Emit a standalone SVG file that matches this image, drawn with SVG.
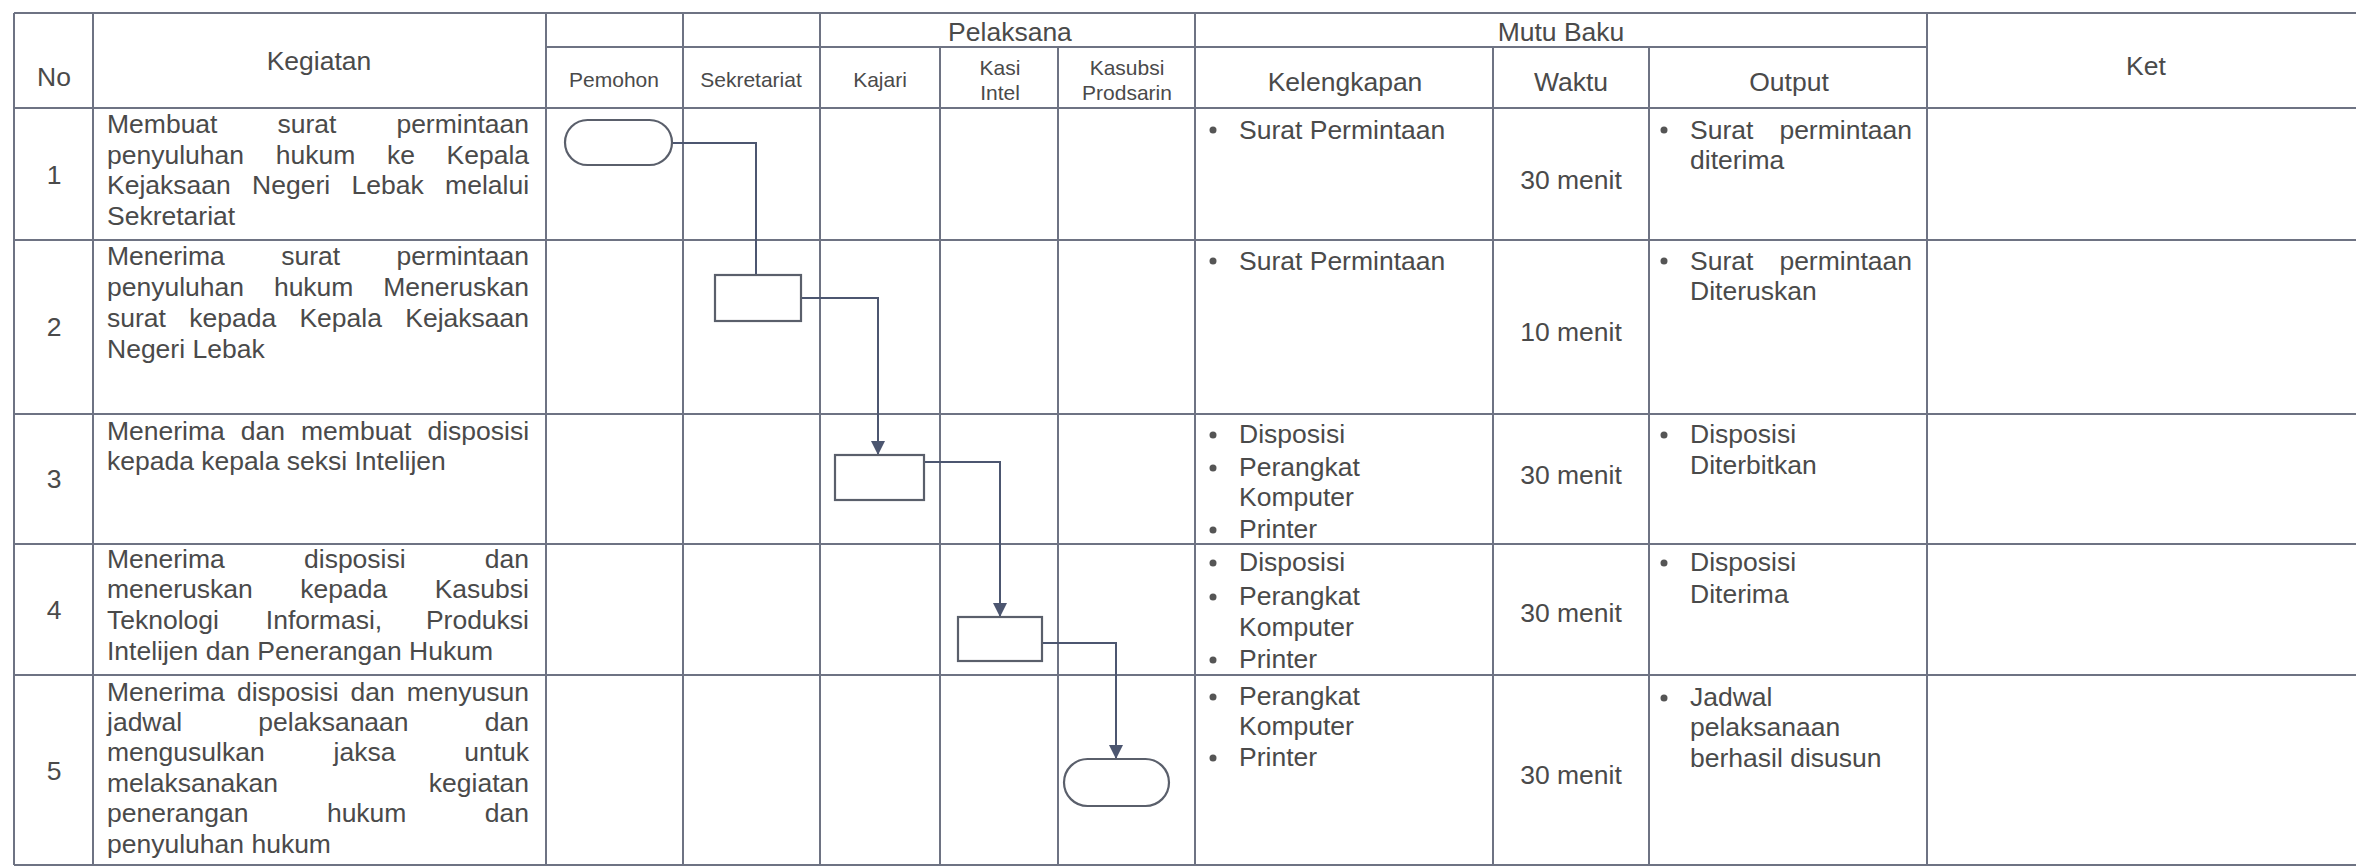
<svg xmlns="http://www.w3.org/2000/svg" width="2356" height="868" viewBox="0 0 2356 868">
<style>
.t{font-family:"Liberation Sans",Arial,sans-serif;font-size:26.5px;fill:#4a4a4a}
.s{font-family:"Liberation Sans",Arial,sans-serif;font-size:21px;fill:#4a4a4a}
.c{text-anchor:middle}
.g{stroke:#6e7383;stroke-width:2;fill:none}
.shape{stroke:#5a5f6b;stroke-width:2.2;fill:#ffffff}
.conn{stroke:#4c5670;stroke-width:2;fill:none}
.b{fill:#555}
</style>
<defs>
<marker id="arr" viewBox="0 0 10 10" refX="10" refY="5" markerWidth="14" markerHeight="14" markerUnits="userSpaceOnUse" orient="auto">
<path d="M0,0 L10,5 L0,10 z" fill="#4c5670"/>
</marker>
</defs>
<rect width="2356" height="868" fill="#ffffff"/>
<g id="grid" class="g">
<path d="M14,13 H2356 M546,47 H1927 M14,108 H2356 M14,240 H2356 M14,414 H2356 M14,544 H2356 M14,675 H2356 M14,865 H2356"/>
<path d="M14,13 V865 M93,13 V865 M546,13 V865 M683,13 V865 M820,13 V865 M940,47 V865 M1058,47 V865 M1195,13 V865 M1493,47 V865 M1649,47 V865 M1927,13 V865"/>
</g>
<g id="header">
<text class="t c" x="54" y="86">No</text>
<text class="t c" x="319" y="70">Kegiatan</text>
<text class="s c" x="614" y="87">Pemohon</text>
<text class="s c" x="751" y="87">Sekretariat</text>
<text class="s c" x="880" y="87">Kajari</text>
<text class="s c" x="1000" y="75">Kasi</text>
<text class="s c" x="1000" y="100">Intel</text>
<text class="s c" x="1127" y="75">Kasubsi</text>
<text class="s c" x="1127" y="100">Prodsarin</text>
<text class="t c" x="1010" y="41">Pelaksana</text>
<text class="t c" x="1561" y="41">Mutu Baku</text>
<text class="t c" x="1345" y="91">Kelengkapan</text>
<text class="t c" x="1571" y="91">Waktu</text>
<text class="t c" x="1789" y="91">Output</text>
<text class="t c" x="2146" y="75">Ket</text>
</g>
<g id="row1">
<text class="t c" x="54" y="184">1</text>
<text class="t" y="133"><tspan x="107">Membuat</tspan><tspan x="277.5">surat</tspan><tspan x="396.4">permintaan</tspan></text>
<text class="t" y="164"><tspan x="107">penyuluhan</tspan><tspan x="275.7">hukum</tspan><tspan x="386.9">ke</tspan><tspan x="446.5">Kepala</tspan></text>
<text class="t" y="194"><tspan x="107">Kejaksaan</tspan><tspan x="252.1">Negeri</tspan><tspan x="351.5">Lebak</tspan><tspan x="445.1">melalui</tspan></text>
<text class="t" x="107" y="225">Sekretariat</text>
<circle class="b" cx="1213" cy="130" r="3.5"/>
<text class="t" x="1239" y="139">Surat Permintaan</text>
<text class="t c" x="1571" y="189">30 menit</text>
<circle class="b" cx="1664" cy="130" r="3.5"/>
<text class="t" y="139"><tspan x="1690">Surat</tspan><tspan x="1779.4">permintaan</tspan></text>
<text class="t" x="1690" y="169">diterima</text>
</g>
<g id="row2">
<text class="t c" x="54" y="336">2</text>
<text class="t" y="265"><tspan x="107">Menerima</tspan><tspan x="281.2">surat</tspan><tspan x="396.4">permintaan</tspan></text>
<text class="t" y="296"><tspan x="107">penyuluhan</tspan><tspan x="273.9">hukum</tspan><tspan x="383.2">Meneruskan</tspan></text>
<text class="t" y="327"><tspan x="107">surat</tspan><tspan x="189.2">kepada</tspan><tspan x="299.4">Kepala</tspan><tspan x="405.3">Kejaksaan</tspan></text>
<text class="t" x="107" y="358">Negeri Lebak</text>
<circle class="b" cx="1213" cy="261" r="3.5"/>
<text class="t" x="1239" y="270">Surat Permintaan</text>
<text class="t c" x="1571" y="341">10 menit</text>
<circle class="b" cx="1664" cy="261" r="3.5"/>
<text class="t" y="270"><tspan x="1690">Surat</tspan><tspan x="1779.4">permintaan</tspan></text>
<text class="t" x="1690" y="300">Diteruskan</text>
</g>
<g id="row3">
<text class="t c" x="54" y="488">3</text>
<text class="t" y="440"><tspan x="107">Menerima</tspan><tspan x="240.8">dan</tspan><tspan x="301">membuat</tspan><tspan x="427.4">disposisi</tspan></text>
<text class="t" x="107" y="470">kepada kepala seksi Intelijen</text>
<circle class="b" cx="1213" cy="435" r="3.5"/>
<text class="t" x="1239" y="443">Disposisi</text>
<circle class="b" cx="1213" cy="468" r="3.5"/>
<text class="t" x="1239" y="476">Perangkat</text>
<text class="t" x="1239" y="506">Komputer</text>
<circle class="b" cx="1213" cy="530" r="3.5"/>
<text class="t" x="1239" y="538">Printer</text>
<text class="t c" x="1571" y="484">30 menit</text>
<circle class="b" cx="1664" cy="435" r="3.5"/>
<text class="t" x="1690" y="443">Disposisi</text>
<text class="t" x="1690" y="474">Diterbitkan</text>
</g>
<g id="row4">
<text class="t c" x="54" y="619">4</text>
<text class="t" y="568"><tspan x="107">Menerima</tspan><tspan x="304">disposisi</tspan><tspan x="484.8">dan</tspan></text>
<text class="t" y="598"><tspan x="107">meneruskan</tspan><tspan x="300.3">kepada</tspan><tspan x="434.7">Kasubsi</tspan></text>
<text class="t" y="629"><tspan x="107">Teknologi</tspan><tspan x="265.8">Informasi,</tspan><tspan x="425.9">Produksi</tspan></text>
<text class="t" x="107" y="660">Intelijen dan Penerangan Hukum</text>
<circle class="b" cx="1213" cy="563" r="3.5"/>
<text class="t" x="1239" y="571">Disposisi</text>
<circle class="b" cx="1213" cy="597" r="3.5"/>
<text class="t" x="1239" y="605">Perangkat</text>
<text class="t" x="1239" y="636">Komputer</text>
<circle class="b" cx="1213" cy="660" r="3.5"/>
<text class="t" x="1239" y="668">Printer</text>
<text class="t c" x="1571" y="622">30 menit</text>
<circle class="b" cx="1664" cy="563" r="3.5"/>
<text class="t" x="1690" y="571">Disposisi</text>
<text class="t" x="1690" y="603">Diterima</text>
</g>
<g id="row5">
<text class="t c" x="54" y="780">5</text>
<text class="t" y="701"><tspan x="107">Menerima</tspan><tspan x="236.9">disposisi</tspan><tspan x="350.6">dan</tspan><tspan x="406.8">menyusun</tspan></text>
<text class="t" y="731"><tspan x="107">jadwal</tspan><tspan x="258.3">pelaksanaan</tspan><tspan x="484.8">dan</tspan></text>
<text class="t" y="761"><tspan x="107">mengusulkan</tspan><tspan x="333.5">jaksa</tspan><tspan x="464.2">untuk</tspan></text>
<text class="t" y="792"><tspan x="107">melaksanakan</tspan><tspan x="428.8">kegiatan</tspan></text>
<text class="t" y="822"><tspan x="107">penerangan</tspan><tspan x="326.9">hukum</tspan><tspan x="484.8">dan</tspan></text>
<text class="t" x="107" y="853">penyuluhan hukum</text>
<circle class="b" cx="1213" cy="697" r="3.5"/>
<text class="t" x="1239" y="705">Perangkat</text>
<text class="t" x="1239" y="735">Komputer</text>
<circle class="b" cx="1213" cy="758" r="3.5"/>
<text class="t" x="1239" y="766">Printer</text>
<text class="t c" x="1571" y="784">30 menit</text>
<circle class="b" cx="1664" cy="698" r="3.5"/>
<text class="t" x="1690" y="706">Jadwal</text>
<text class="t" x="1690" y="736">pelaksanaan</text>
<text class="t" x="1690" y="767">berhasil disusun</text>
</g>
<g id="connectors" class="conn">
<path d="M672,143 H756 V275"/>
<path d="M801,298 H878 V455" marker-end="url(#arr)"/>
<path d="M924,462 H1000 V617" marker-end="url(#arr)"/>
<path d="M1042,643 H1116 V759" marker-end="url(#arr)"/>
</g>
<g id="start-pemohon"><rect class="shape" x="565" y="120" width="107" height="45" rx="22.5"/></g>
<g id="step-sekretariat"><rect class="shape" x="715" y="275" width="86" height="46"/></g>
<g id="step-kajari"><rect class="shape" x="835" y="455" width="89" height="45"/></g>
<g id="step-kasi-intel"><rect class="shape" x="958" y="617" width="84" height="44"/></g>
<g id="end-kasubsi"><rect class="shape" x="1064" y="759" width="105" height="47" rx="23.5"/></g>
</svg>
